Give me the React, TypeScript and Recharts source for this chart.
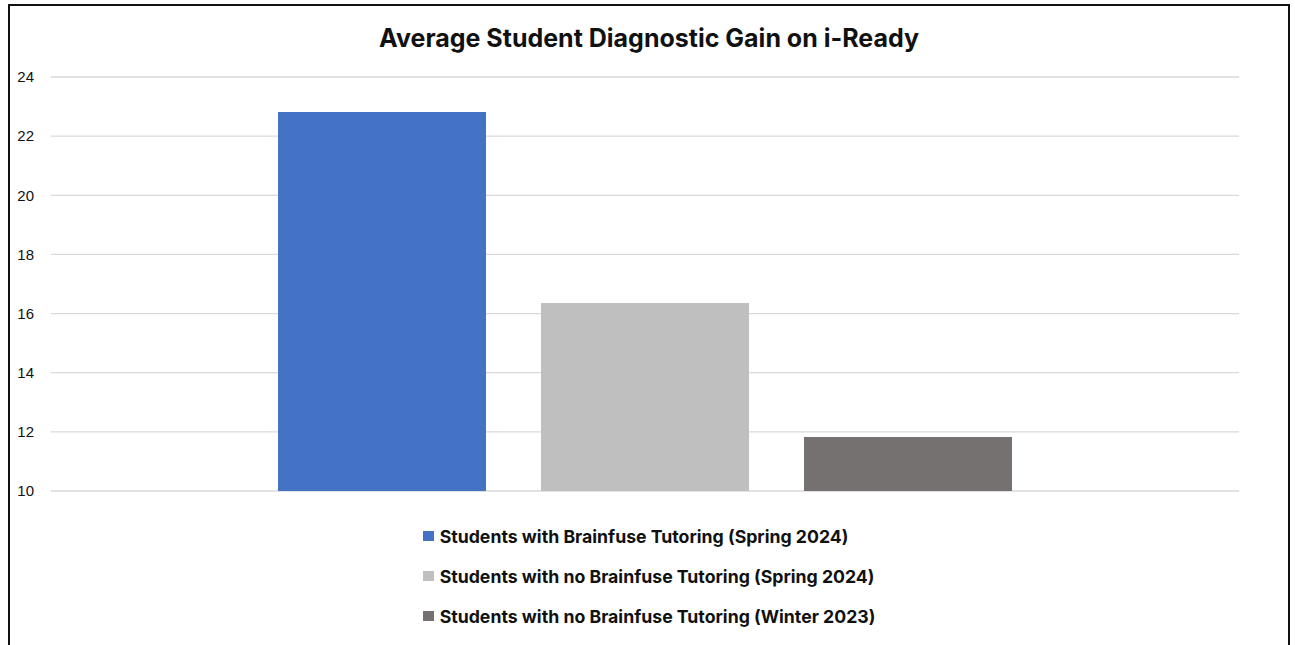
import React from "react";
import { Bar, BarChart, CartesianGrid, Legend, XAxis, YAxis } from "recharts";

const categories = [""];
const seriesNames = [
  "Students with Brainfuse Tutoring (Spring 2024)",
  "Students with no Brainfuse Tutoring (Spring 2024)",
  "Students with no Brainfuse Tutoring (Winter 2023)",
];
const seriesKeys = ["spring24Tutored", "spring24NoTutor", "winter23NoTutor"];
const seriesValues = [22.82, 16.36, 11.83];
const seriesColors = ["#4472C4", "#BFBFBF", "#767171"];
const yTicks = [10, 12, 14, 16, 18, 20, 22, 24];

const data = categories.map((name) => {
  const row: Record<string, string | number> = { name };
  seriesKeys.forEach((k, i) => (row[k] = seriesValues[i]));
  return row;
});

const labelFont = "Inter, 'Open Sans', sans-serif";

const LegendList = () => (
  <div style={{ textAlign: "center" }}>
    <div style={{ display: "inline-block", textAlign: "left" }}>
      {seriesNames.map((n, i) => (
        <div
          key={n}
          style={{
            display: "flex",
            alignItems: "center",
            height: 40,
            fontFamily: labelFont,
            fontWeight: 700,
            fontSize: 17.7,
            color: "#111",
          }}
        >
          <span
            style={{
              width: 11,
              height: 10,
              background: seriesColors[i],
              marginRight: 6,
              display: "inline-block",
            }}
          />
          {n}
        </div>
      ))}
    </div>
  </div>
);

export default function App() {
  return (
    <div
      style={{
        position: "absolute",
        top: 4,
        left: 8,
        width: 1278,
        height: 639,
        borderTop: "2px solid #111",
        borderLeft: "2px solid #111",
        borderRight: "2px solid #111",
        overflow: "hidden",
        background: "#fff",
      }}
    >
      <div
        style={{
          position: "absolute",
          top: 17,
          left: 0,
          width: 1278,
          textAlign: "center",
          fontFamily: labelFont,
          fontWeight: 700,
          fontSize: 25,
          lineHeight: "30px",
          color: "#111",
        }}
      >
        Average Student Diagnostic Gain on i-Ready
      </div>
      <BarChart
        width={1278}
        height={660}
        data={data}
        margin={{ top: 71, right: 49, bottom: 175, left: 0 }}
        barSize={208}
        barGap={55}
      >
        <CartesianGrid vertical={false} stroke="#D9D9D9" strokeWidth={1.3} />
        <XAxis dataKey="name" hide />
        <YAxis
          width={41}
          domain={[10, 24]}
          ticks={yTicks}
          allowDataOverflow
          axisLine={false}
          tickLine={false}
          tickMargin={11}
          tick={{ fill: "#111", fontSize: 15, fontFamily: "'Liberation Sans', Arial, sans-serif" }}
        />
        <Legend
          layout="horizontal"
          verticalAlign="middle"
          align="center"
          content={() => <LegendList />}
          wrapperStyle={{ top: 510, left: 0, width: 1278 }}
        />
        {seriesKeys.map((k, i) => (
          <Bar
            key={k}
            dataKey={k}
            name={seriesNames[i]}
            fill={seriesColors[i]}
            isAnimationActive={false}
          />
        ))}
      </BarChart>
    </div>
  );
}
